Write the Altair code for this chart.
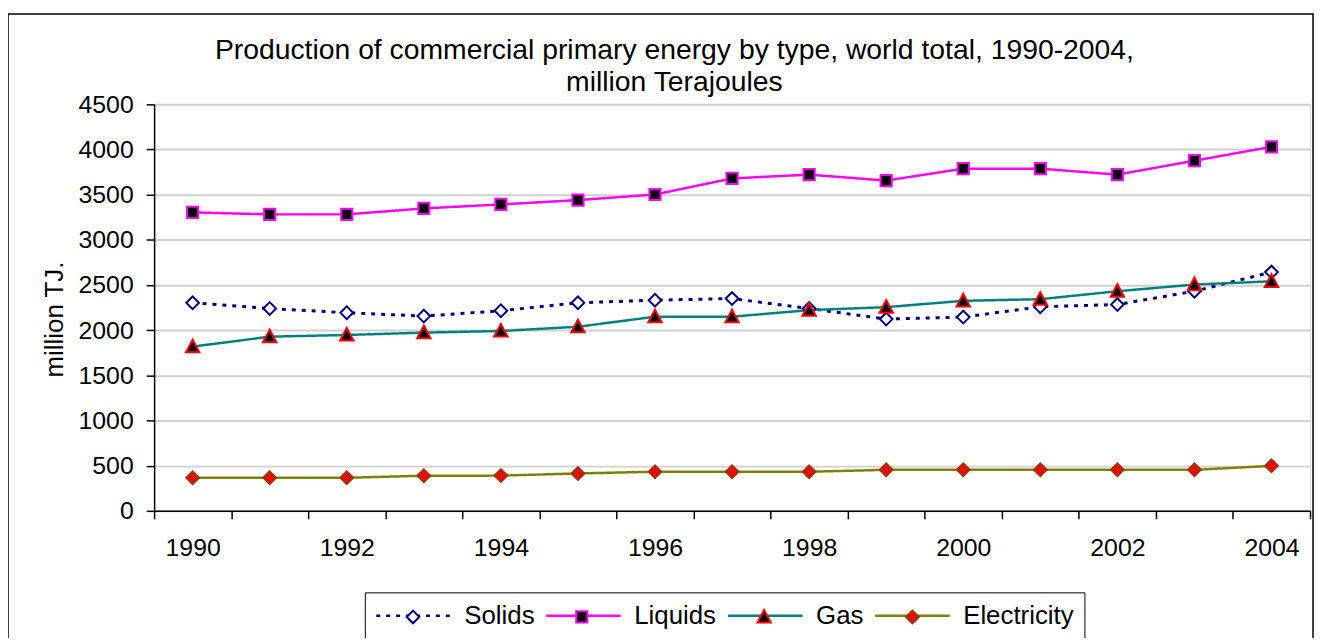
import altair as alt
import pandas as pd

years = [str(y) for y in range(1990, 2005)]
series_names = ["Solids", "Liquids", "Gas", "Electricity"]
solids = [2303, 2240, 2193, 2156, 2215, 2303, 2332, 2350, 2240, 2123, 2145, 2259, 2284, 2431, 2643]
liquids = [3304, 3282, 3282, 3348, 3392, 3440, 3502, 3680, 3722, 3656, 3788, 3788, 3722, 3876, 4030]
gas = [1818, 1928, 1947, 1973, 1991, 2038, 2149, 2149, 2222, 2255, 2325, 2343, 2431, 2505, 2541]
electricity = [366, 366, 366, 389, 390, 414, 433, 433, 433, 454, 454, 454, 454, 454, 498]

line_colors = ["#000080", "#FF00FF", "#008080", "#808000"]
dash_styles = [[4, 6], [1, 0], [1, 0], [1, 0]]
marker_fills = ["#FFFFFF", "#000000", "#000000", "#FF0000"]
marker_strokes = ["#000080", "#FF00FF", "#FF0000", "#993300"]
marker_kinds = ["diamond", "square", "triangle", "diamond"]
marker_half = {"diamond": 0.17, "square": 0.15, "triangle": 0.18}


def marker_path(kind, cx=0.0):
    if kind == "diamond":
        return "M%.3f,-0.17L%.3f,0L%.3f,0.17L%.3f,0Z" % (cx, cx + 0.17, cx, cx - 0.17)
    if kind == "square":
        return "M%.3f,-0.15L%.3f,-0.15L%.3f,0.15L%.3f,0.15Z" % (cx - 0.15, cx + 0.15, cx + 0.15, cx - 0.15)
    return "M%.3f,-0.19L%.3f,0.15L%.3f,0.15Z" % (cx, cx + 0.18, cx - 0.18)


# legend layout: the marker legend has no labels, so each marker is shifted so that
# it sits on the middle of its line in the labelled legend (labels 26px Liberation Sans)
label_font_size = 26
label_widths = [70.8, 82.4, 47.7, 111.2]
label_offset = 12
column_padding = 10
symbol_len = 75.0
half_symbol = symbol_len / 2
entry_height = 27

shifts = []
a_start = 0.0
b_start = 0.0
for kind, w in zip(marker_kinds, label_widths):
    target = a_start + half_symbol
    s = target - b_start - half_symbol
    shifts.append(s / half_symbol)
    b_width = max(symbol_len + label_offset, half_symbol + s + marker_half[kind] * half_symbol + 1)
    b_start += b_width + column_padding
    a_start += symbol_len + label_offset + w + column_padding
legend_marker_shapes = [marker_path(k, s) for k, s in zip(marker_kinds, shifts)]

rows = []
for name, vals in zip(series_names, [solids, liquids, gas, electricity]):
    for yr, v in zip(years, vals):
        rows.append({"year": yr, "value": v, "series": name, "series_m": name})
df = pd.DataFrame(rows)

font = "Liberation Sans"

x_enc = alt.X(
    "year:O", title=None,
    scale=alt.Scale(type="band", paddingInner=0, paddingOuter=0),
    axis=alt.Axis(labelAngle=0,
                  labelExpr="parseInt(datum.value) % 2 == 0 ? datum.value : ''",
                  tickBand="extent", tickSize=8, labelPadding=17,
                  domainColor="#000000", tickColor="#000000", domainWidth=1.5, tickWidth=1.5,
                  labelFontSize=25, labelFont=font, labelColor="#000000", grid=False,
                  labelOverlap=False),
)
y_enc = alt.Y(
    "value:Q", title="million TJ.",
    scale=alt.Scale(domain=[0, 4500], nice=False, zero=True),
    axis=alt.Axis(values=list(range(0, 4501, 500)), format="d", tickSize=8, labelPadding=13,
                  domainColor="#000000", tickColor="#000000", domainWidth=1.5, tickWidth=1.5,
                  labelFontSize=25, labelFont=font, labelColor="#000000",
                  grid=True, gridColor="#d0d0d0", gridWidth=2,
                  titleFontSize=26, titleFont=font, titleFontWeight="normal", titleColor="#000000",
                  titlePadding=11, titleY=216),
)

legend_x = 212
legend_y = 491
legend_common = dict(title=None, orient="none", legendX=legend_x, direction="horizontal",
                     columns=4, symbolSize=symbol_len ** 2, labelFontSize=label_font_size, labelFont=font,
                     labelOffset=label_offset, columnPadding=column_padding, padding=10)

legend_a = alt.Legend(symbolType="stroke", symbolStrokeWidth=2.5, labelColor="#000000",
                      strokeColor="#000000", legendY=legend_y, clipHeight=entry_height, **legend_common)
legend_b = alt.Legend(symbolStrokeWidth=2, labelExpr="''",
                      legendY=legend_y + entry_height / 2 - half_symbol, **legend_common)

base = alt.Chart(df)

line_color = alt.Color("series:N", sort="descending", scale=alt.Scale(range=line_colors), legend=legend_a)
line_dash = alt.StrokeDash("series:N", sort="descending", scale=alt.Scale(range=dash_styles), legend=legend_a)

lines_solid = base.transform_filter(alt.datum.series == "Solids").mark_line(strokeWidth=3).encode(
    x=x_enc, y=y_enc, color=line_color, strokeDash=line_dash,
)
lines_other = base.transform_filter(alt.datum.series != "Solids").mark_line(strokeWidth=2.5).encode(
    x=alt.X("year:O"), y=alt.Y("value:Q"), color=line_color, strokeDash=line_dash,
)

point_layers = []
for name, kind, mfill, mstroke in zip(series_names, marker_kinds, marker_fills, marker_strokes):
    point_layers.append(
        base.transform_filter(alt.datum.series == name).mark_point(
            shape=marker_path(kind), size=symbol_len ** 2, filled=True, fill=mfill, stroke=mstroke,
            strokeWidth=2, opacity=1,
        ).encode(x=alt.X("year:O"), y=alt.Y("value:Q"))
    )

# empty layer that only carries the marker legend
legend_markers = base.transform_filter("false").mark_point(
    size=symbol_len ** 2, filled=True, strokeWidth=2, opacity=1
).encode(
    x=alt.X("year:O"),
    y=alt.Y("value:Q"),
    shape=alt.Shape("series_m:N", scale=alt.Scale(domain=series_names, range=legend_marker_shapes), legend=legend_b),
    fill=alt.Fill("series_m:N", scale=alt.Scale(domain=series_names, range=marker_fills), legend=legend_b),
    stroke=alt.Stroke("series_m:N", scale=alt.Scale(domain=series_names, range=marker_strokes), legend=legend_b),
)

frame = alt.Chart(alt.Data(values=[{}])).mark_rect(fillOpacity=0, stroke="#000000", strokeWidth=1.5).encode(
    x=alt.value(-147), x2=alt.value(1166), y=alt.value(-91), y2=alt.value(545)
)

chart = alt.layer(frame, lines_solid, lines_other, *point_layers, legend_markers).properties(
    width=1163, height=409,
    autosize=alt.AutoSizeParams(type="none"),
    padding={"left": 147, "top": 95, "right": 5, "bottom": 126},
    title=alt.TitleParams(
        ["Production of commercial primary energy by type, world total, 1990-2004,", "million Terajoules"],
        fontSize=28.5, font=font, fontWeight="normal", color="#000000", lineHeight=32,
        anchor="middle", frame="bounds", offset=-84, dx=14),
).configure_view(stroke="#999999", strokeWidth=1).configure(background="#ffffff")

chart.save("out.html", embed_options={"renderer": "svg", "actions": False})
